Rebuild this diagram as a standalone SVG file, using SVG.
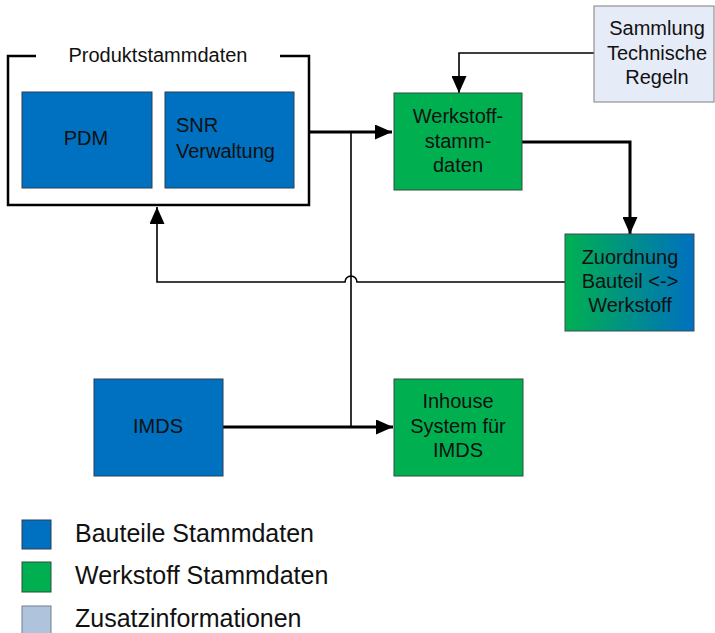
<svg xmlns="http://www.w3.org/2000/svg" width="715" height="633" viewBox="0 0 715 633">
<style>
text{font-family:"Liberation Sans",Arial,sans-serif;font-size:20px;fill:#111;}
.c{text-anchor:middle;}
.blue{fill:#0070C0;stroke:#2a3f55;stroke-width:1;}
.green{fill:#00B050;stroke:#2f4f3a;stroke-width:1;}
.light{fill:#E6ECF7;stroke:#7f7f7f;stroke-width:1;}
.thick{fill:none;stroke:#000;stroke-width:3;}
.thin{fill:none;stroke:#000;stroke-width:1.6;}
.leg{font-size:25px;}
</style>
<defs>
<marker id="ah" markerUnits="userSpaceOnUse" markerWidth="17" markerHeight="15" refX="17" refY="7.5" orient="auto">
<path d="M0,0 L17,7.5 L0,15 z" fill="#000"/>
</marker>
<linearGradient id="gb" x1="0" y1="0" x2="1" y2="0">
<stop offset="0" stop-color="#00B050"/>
<stop offset="1" stop-color="#0070C0"/>
</linearGradient>
</defs>
<g id="connectors">
<path class="thin" d="M351,132 V427"/>
<path class="thick" d="M309,132 H392" marker-end="url(#ah)"/>
<path class="thin" d="M594,53 H459 V93" marker-end="url(#ah)"/>
<path class="thick" d="M522,142 H630 V234" marker-end="url(#ah)"/>
<path class="thin" d="M565,282 H357 A6,6 0 0 0 345,282 H157 V207" marker-end="url(#ah)"/>
<path class="thick" d="M223,427 H393" marker-end="url(#ah)"/>
</g>
<g id="produktstammdaten">
<path d="M36,56 H8 V205 H309 V56 H280" fill="none" stroke="#000" stroke-width="2.5"/>
<text class="c" x="158" y="62">Produktstammdaten</text>
</g>
<g id="pdm">
<rect class="blue" x="22" y="92" width="130" height="96"/>
<text class="c" x="86" y="145">PDM</text>
</g>
<g id="snr">
<rect class="blue" x="165" y="92" width="129" height="96"/>
<text x="176" y="132">SNR</text>
<text x="176" y="158">Verwaltung</text>
</g>
<g id="sammlung">
<rect class="light" x="594" y="6" width="120" height="96"/>
<text class="c" x="657" y="35">Sammlung</text>
<text class="c" x="657" y="60">Technische</text>
<text class="c" x="657" y="84">Regeln</text>
</g>
<g id="werkstoff">
<rect class="green" x="394" y="93" width="128" height="97"/>
<text class="c" x="458" y="123">Werkstoff-</text>
<text class="c" x="458" y="148">stamm-</text>
<text class="c" x="458" y="172">daten</text>
</g>
<g id="zuordnung">
<rect x="565" y="234" width="129" height="97" fill="url(#gb)" stroke="#3a4a5a" stroke-width="1"/>
<text class="c" x="630" y="264">Zuordnung</text>
<text class="c" x="630" y="288">Bauteil &lt;-&gt;</text>
<text class="c" x="630" y="312">Werkstoff</text>
</g>
<g id="imds">
<rect class="blue" x="94" y="379" width="129" height="97"/>
<text class="c" x="158" y="433">IMDS</text>
</g>
<g id="inhouse">
<rect class="green" x="394" y="379" width="129" height="97"/>
<text class="c" x="458" y="408">Inhouse</text>
<text class="c" x="458" y="433">System für</text>
<text class="c" x="458" y="457">IMDS</text>
</g>
<g id="legend">
<rect class="blue" x="22" y="520" width="29" height="29"/>
<text class="leg" x="75" y="542">Bauteile Stammdaten</text>
<rect class="green" x="22" y="562" width="29" height="30"/>
<text class="leg" x="75" y="584">Werkstoff Stammdaten</text>
<rect x="22" y="606" width="29" height="30" fill="#AFC3DC" stroke="#6f7f8f" stroke-width="1"/>
<text class="leg" x="75" y="627">Zusatzinformationen</text>
</g>
</svg>
